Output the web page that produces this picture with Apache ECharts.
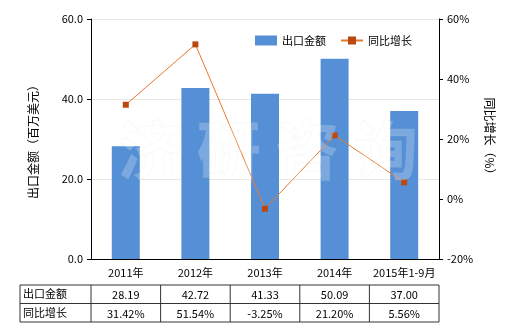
<!DOCTYPE html>
<html><head><meta charset="utf-8">
<script src="https://cdn.jsdelivr.net/npm/echarts@6/dist/echarts.min.js"></script>
<style>html,body{margin:0;padding:0;background:#fff}#c{width:520px;height:330px}</style>
</head><body><div id="c"></div>
<script>
const categories = ['2011年', '2012年', '2013年', '2014年', '2015年1-9月'];
const exportValues = [28.19, 42.72, 41.33, 50.09, 37.00];
const growthValues = [31.42, 51.54, -3.25, 21.20, 5.56];
const exportLabels = ['28.19', '42.72', '41.33', '50.09', '37.00'];
const growthLabels = ['31.42%', '51.54%', '-3.25%', '21.20%', '5.56%'];
const rowNames = ['出口金额', '同比增长'];

const font = '"Noto Sans CJK SC", "DejaVu Sans", sans-serif';
const gridL = 91, gridR = 439, gridT = 19, gridB = 259;
const tblL = 20, tblTop = 285, rowH = 18.5;
const n = categories.length;
const colW = (gridR - gridL) / n;

const graphics = [];
const tblBottom = tblTop + rowH * 2;
for (let r = 0; r <= 2; r++) {
  graphics.push({type: 'line', shape: {x1: tblL, y1: tblTop + r * rowH, x2: gridR, y2: tblTop + r * rowH}, style: {stroke: '#333', lineWidth: 1}});
}
graphics.push({type: 'line', shape: {x1: tblL, y1: tblTop, x2: tblL, y2: tblBottom}, style: {stroke: '#333', lineWidth: 1}});
for (let i = 0; i <= n; i++) {
  const x = gridL + i * colW;
  graphics.push({type: 'line', shape: {x1: x, y1: tblTop, x2: x, y2: tblBottom}, style: {stroke: '#333', lineWidth: 1}});
}
const rows = [exportLabels, growthLabels];
rows.forEach((vals, r) => {
  const cy = tblTop + r * rowH + rowH / 2;
  graphics.push({type: 'text', x: tblL + 3, y: cy, style: {text: rowNames[r], font: '11px ' + font, fill: '#000', verticalAlign: 'middle', align: 'left'}});
  vals.forEach((v, i) => {
    graphics.push({type: 'text', x: gridL + (i + 0.5) * colW, y: cy + 1, style: {text: v, font: '11px ' + font, fill: '#000', verticalAlign: 'middle', align: 'center'}});
  });
});
// watermark
graphics.push({type: 'text', x: 268, y: 150, z: 10, style: {text: '济 研 咨 询', font: 'bold 64px ' + font, fill: 'rgba(255,255,255,0.22)', stroke: 'rgba(200,200,200,0.12)', lineWidth: 1, align: 'center', verticalAlign: 'middle'}});

const chart = echarts.init(document.getElementById('c'));
chart.setOption({
  animation: false,
  textStyle: {fontFamily: font},
  grid: {left: gridL, right: 520 - gridR, top: gridT, bottom: 330 - gridB},
  legend: {
    top: 30, left: 250, itemGap: 14, itemWidth: 22, itemHeight: 10,
    textStyle: {fontSize: 11, color: '#000', fontFamily: font},
    data: [{name: '出口金额', icon: 'rect'}, {name: '同比增长'}]
  },
  xAxis: {
    type: 'category', data: categories,
    axisLine: {lineStyle: {color: '#000'}},
    axisTick: {alignWithLabel: true, length: 4, lineStyle: {color: '#000'}},
    axisLabel: {color: '#000', fontSize: 11, margin: 8, interval: 0}
  },
  yAxis: [{
    type: 'value', min: 0, max: 60, interval: 20,
    name: '出口金额（百万美元）', nameLocation: 'middle', nameGap: 52, nameRotate: 90,
    nameTextStyle: {fontSize: 12, color: '#000'},
    axisLine: {show: true, lineStyle: {color: '#000'}},
    axisTick: {show: true, length: 4, lineStyle: {color: '#000'}},
    axisLabel: {color: '#000', fontSize: 11, formatter: v => v.toFixed(1)},
    splitLine: {lineStyle: {color: '#e8e8e0'}}
  }, {
    type: 'value', min: -20, max: 60, interval: 20,
    name: '同比增长（%）', nameLocation: 'middle', nameGap: 44, nameRotate: -90,
    nameTextStyle: {fontSize: 12, color: '#000'},
    axisLine: {show: true, lineStyle: {color: '#000'}},
    axisTick: {show: true, length: 4, lineStyle: {color: '#000'}},
    axisLabel: {color: '#000', fontSize: 11, formatter: v => v + '%'},
    splitLine: {show: false}
  }],
  series: [{
    name: '出口金额', type: 'bar', data: exportValues, barWidth: 28,
    itemStyle: {color: '#5590d6'}, z: 2
  }, {
    name: '同比增长', type: 'line', yAxisIndex: 1, data: growthValues,
    symbol: 'rect', symbolSize: 6,
    lineStyle: {color: '#e8782c', width: 1},
    itemStyle: {color: '#bb4810'}, z: 3
  }],
  graphic: graphics
});
</script></body></html>
